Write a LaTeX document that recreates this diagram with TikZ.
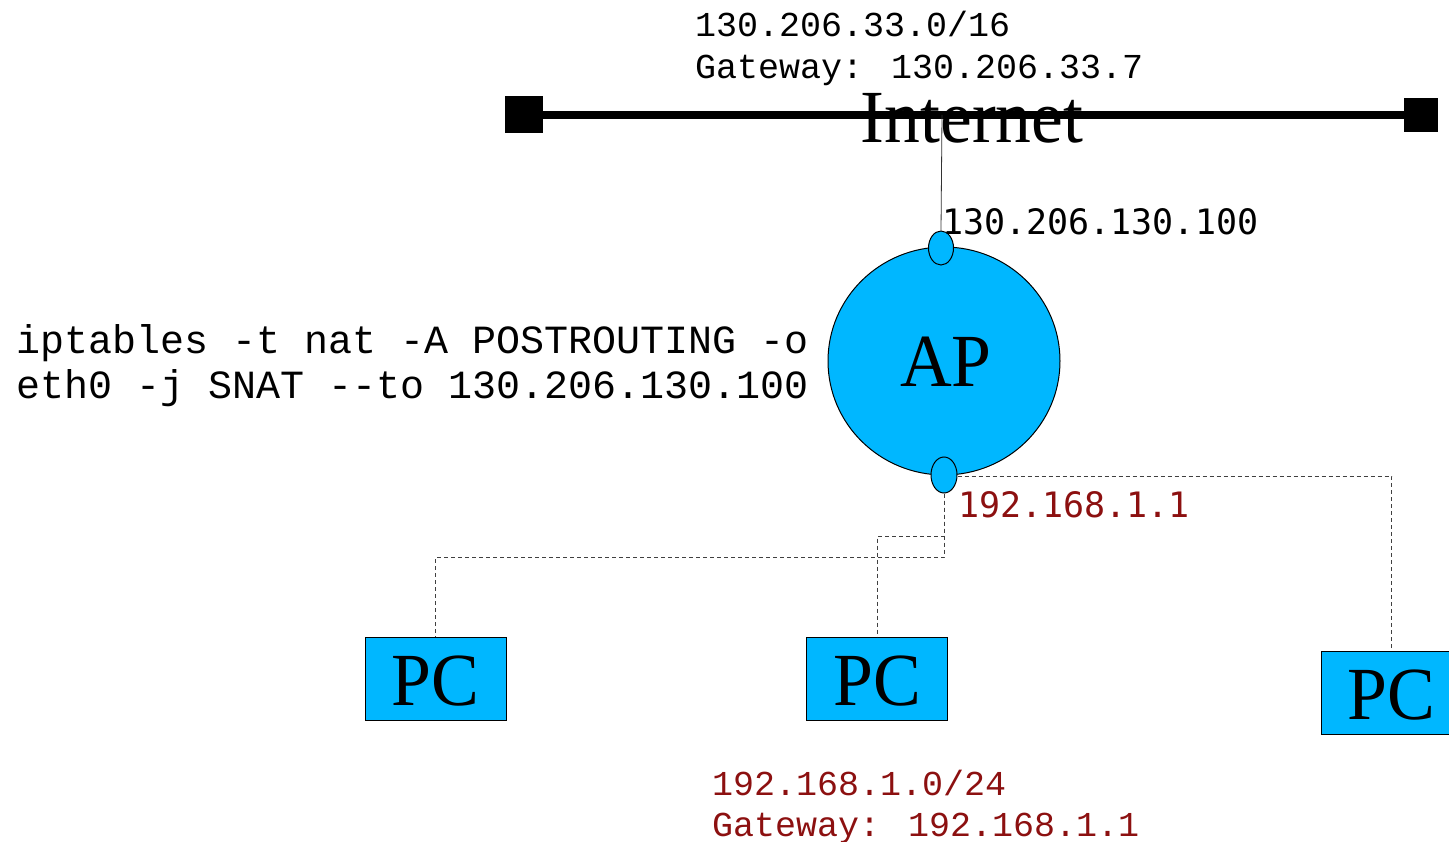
\documentclass[tikz,border=0pt]{standalone}
\usepackage{fontspec}
\setmainfont{Liberation Serif}
\newfontfamily\labelserif[FakeStretch=0.955]{Liberation Serif}
\newfontfamily\courier{Liberation Mono}
\newfontfamily\sansmono{DejaVu Sans Mono}
\usetikzlibrary{shapes.geometric}
\definecolor{devblue}{RGB}{0,183,255}
\definecolor{addrred}{RGB}{140,16,16}
\tikzset{
  big/.style={font=\labelserif\fontsize{75}{80}\selectfont, inner sep=0pt},
  device/.style={draw=black, line width=1pt, fill=devblue},
  pcbox/.style={device, rectangle, minimum width=141pt, minimum height=83pt, inner sep=0pt},
  port/.style={device, ellipse, minimum width=25pt, minimum height=34pt, inner sep=0pt},
  lan/.style={draw=black!75, line width=1pt, dash pattern=on 4pt off 3pt},
  mono/.style={font=\courier\fontsize{35}{42}\selectfont, inner sep=0pt, anchor=base west},
  cmd/.style={font=\courier\fontsize{40}{45}\selectfont, inner sep=0pt, anchor=base west},
  smono/.style={font=\sansmono\fontsize{35}{42}\selectfont, inner sep=0pt, anchor=base west},
}
\begin{document}
\begin{tikzpicture}[x=1pt, y=-1pt]
\useasboundingbox (0,0) rectangle (1449,842);

% Internet backbone with its terminators
\draw[line width=8pt] (541,115) -- (1405,115);
\fill (505,96) rectangle (543,133);
\fill (1404,98) rectangle (1438,132);
\node[big, anchor=base] (inet) at (972,143) {Internet};
\coordinate (tap) at (942,115);

% upstream network
\node[mono] (wan) at (695,37) {130.206.33.0/16};
\node[mono] (wangw) at (695,79) {Gateway: 130.206.33.7};

% access point with its two interfaces
\node[device, ellipse, minimum width=232pt, minimum height=228pt, inner sep=0pt] (ap) at (944,361) {};
\node[big, anchor=base] (aplabel) at (946,387) {AP};
\node[port] (ptop) at (941,248) {};
\node[port, minimum width=26pt, minimum height=36pt] (pbot) at (944,475) {};
\draw[line width=0.8pt, black!80] (tap) -- (ptop.north);

\node[smono] (wanip) at (942,235) {130.206.130.100};
\node[smono, text=addrred] (lanip) at (958,517) {192.168.1.1};

% NAT rule
\node[cmd] (rule1) at (16,354) {iptables -t nat -A POSTROUTING -o};
\node[cmd] (rule2) at (16,399) {eth0 -j SNAT --to 130.206.130.100};

% hosts
\node[pcbox] (pc1) at (435.5,678.5) {};
\node[big, anchor=base] at (435.5,705) {PC};
\node[pcbox] (pc2) at (877,678.5) {};
\node[big, anchor=base] at (877,705) {PC};
\node[pcbox] (pc3) at (1391.5,692.5) {};
\node[big, anchor=base] at (1391.5,719) {PC};

% LAN wiring
\draw[lan] (pbot.south) -- (pbot.south |- 0,557) -| (pc1.north);
\draw[lan] (pbot.south) -- (pbot.south |- 0,536) -| (pc2.north);
\draw[lan] (pbot.east) ++(0,1) -| (pc3.north);

% local network
\node[mono, text=addrred] (lan) at (712,795) {192.168.1.0/24};
\node[mono, text=addrred] (langw) at (712,836) {Gateway: 192.168.1.1};
\end{tikzpicture}
\end{document}
